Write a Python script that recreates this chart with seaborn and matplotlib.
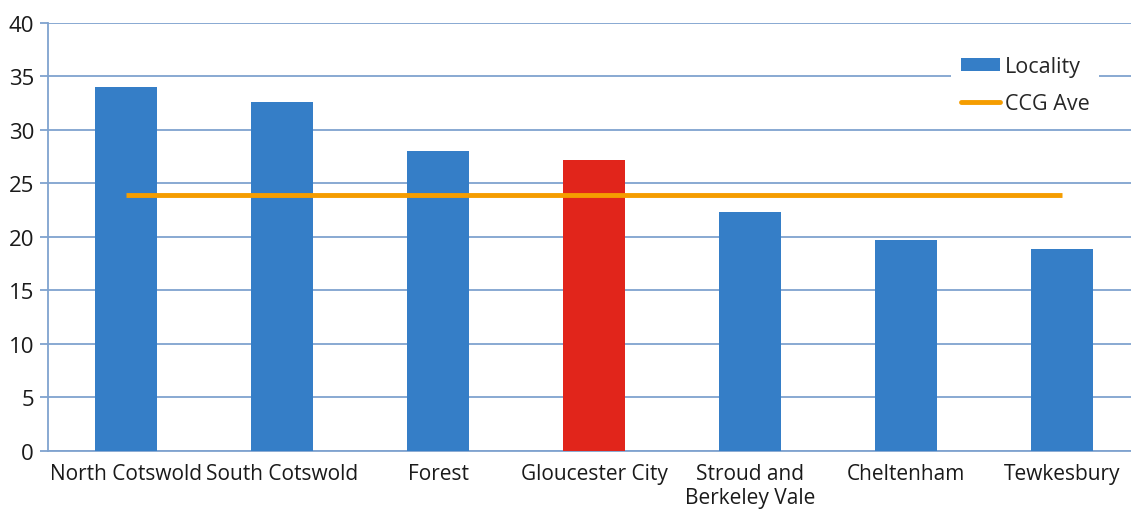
import numpy as np
import matplotlib
matplotlib.use("Agg")
import matplotlib.pyplot as plt
from matplotlib.patches import Patch
from matplotlib.lines import Line2D
import seaborn as sns

categories = ["North Cotswold", "South Cotswold", "Forest", "Gloucester City",
              "Stroud and\nBerkeley Vale", "Cheltenham", "Tewkesbury"]
locality = [34.0, 32.6, 28.0, 27.2, 22.3, 19.7, 18.9]
ccg_ave = [23.9, 23.9, 23.9, 23.9, 23.9, 23.9, 23.9]
bar_colors = ["#357ec7", "#357ec7", "#357ec7", "#e1251b", "#357ec7", "#357ec7", "#357ec7"]
y_ticks = [0, 5, 10, 15, 20, 25, 30, 35, 40]

sns.set_theme(style="white")
plt.rcParams["font.family"] = ["Open Sans", "DejaVu Sans"]

grid_c = "#7fa3cf"
fig = plt.figure(figsize=(11.31, 5.10), dpi=100)
ax = fig.add_axes([48 / 1131, 1 - 451.7 / 510, 1092 / 1131, (451.7 - 24) / 510])

sns.barplot(x=categories, y=locality, hue=categories, palette=bar_colors,
            legend=False, width=0.40, saturation=1, linewidth=0, ax=ax, zorder=3)
ax.plot(np.arange(len(categories)), ccg_ave, color="#f59d00", lw=3.5,
        solid_capstyle="butt", zorder=4)

ax.set_ylim(0, 40)
ax.set_xlim(-0.5, len(categories) - 0.5)
ax.set_yticks(y_ticks)
ax.yaxis.grid(True, color=grid_c, lw=1.3, zorder=0)
ax.set_axisbelow(True)
for s in ["top", "right"]:
    ax.spines[s].set_visible(False)
ax.spines["left"].set_color(grid_c)
ax.spines["left"].set_linewidth(1.3)
ax.spines["bottom"].set_color(grid_c)
ax.spines["bottom"].set_linewidth(1.3)

ax.set_xticks(np.arange(len(categories)))
ax.set_xticklabels(categories, fontsize=15, color="#1a1a1a", linespacing=1.2)
ax.set_xticks(np.arange(len(categories) + 1) - 0.5, minor=True)
ax.tick_params(axis="x", which="major", length=0, pad=9)
ax.tick_params(axis="x", which="minor", length=6, width=1.3, color=grid_c, direction="out")
ax.tick_params(axis="y", length=6, width=1.3, color=grid_c, direction="out",
               labelsize=16, labelcolor="#1a1a1a", pad=4, left=True)
ax.set_xlabel("")
ax.set_ylabel("")

handles = [Patch(facecolor="#357ec7", edgecolor="none", label="Locality"),
           Line2D([0], [0], color="#f59d00", lw=3.5, label="CCG Ave")]
leg = ax.legend(handles=handles, loc="upper left", bbox_to_anchor=(0.817, 0.97),
                frameon=True, fontsize=15.5, handlelength=1.85, handleheight=0.55,
                handletextpad=0.2, labelspacing=0.72, borderpad=0.45, fancybox=False)
leg.get_frame().set_facecolor("white")
leg.get_frame().set_edgecolor("none")
leg.get_frame().set_alpha(1)
leg.set_zorder(5)

fig.savefig("out.png", dpi=100)
